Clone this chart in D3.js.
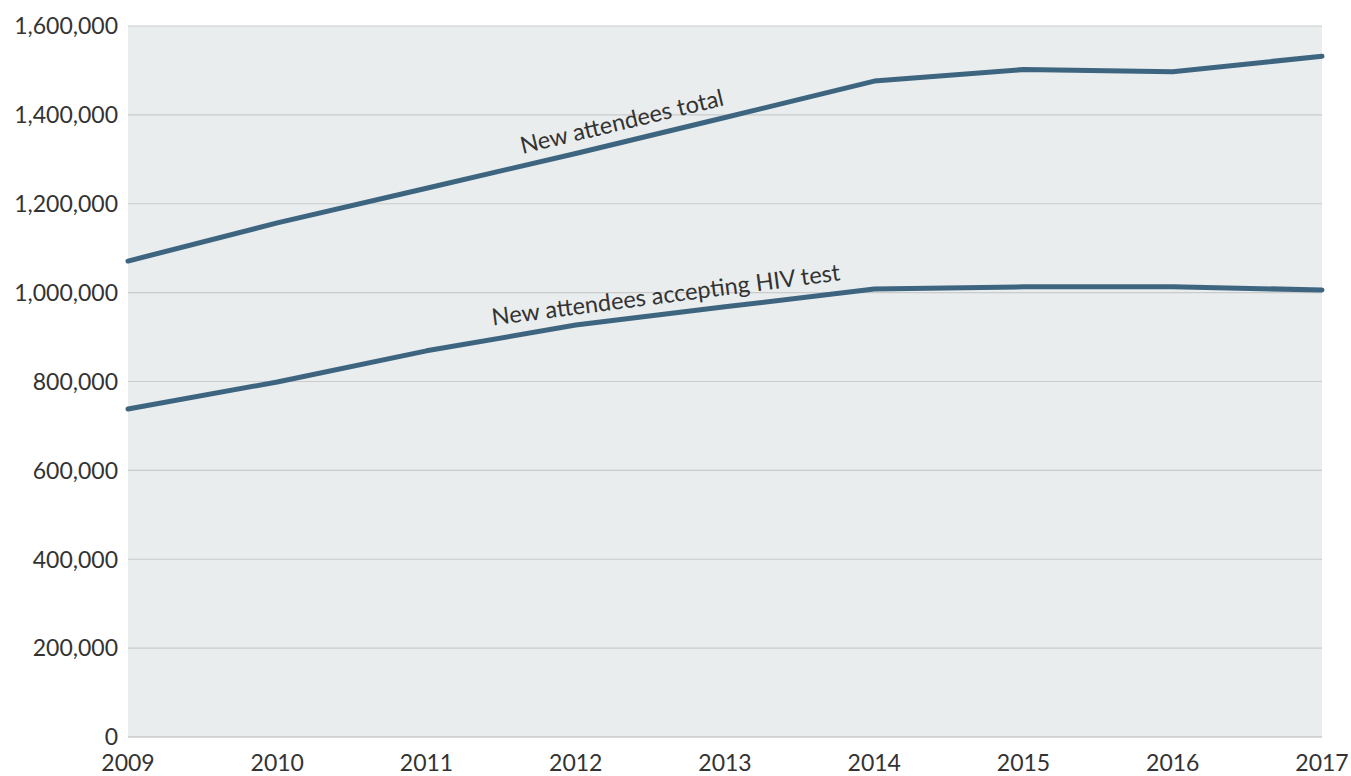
<!DOCTYPE html>
<html>
<head>
<meta charset="utf-8">
<script src="https://cdn.jsdelivr.net/npm/d3@7/dist/d3.min.js"></script>
<style>
  html, body { margin: 0; padding: 0; background: #ffffff; }
  svg { display: block; }
  text { font-family: Lato, "Open Sans", sans-serif; fill: #333333; }
</style>
</head>
<body>
<svg id="chart" width="1351" height="776"></svg>
<script>
// Annual new attendees, 2009–2017
const years = [2009, 2010, 2011, 2012, 2013, 2014, 2015, 2016, 2017];
const attendeesTotal = [1071000, 1157000, 1235000, 1313000, 1394000, 1476000, 1502000, 1497000, 1532000];
const attendeesTested = [738000, 799000, 869000, 927000, 968000, 1008000, 1013000, 1013000, 1006000];
const yTicks = [0, 200000, 400000, 600000, 800000, 1000000, 1200000, 1400000, 1600000];

const seriesList = [
  { name: "New attendees total", values: attendeesTotal, labelAt: 2012.34, offset: 12 },
  { name: "New attendees accepting HIV test", values: attendeesTested, labelAt: 2012.62, offset: 11 }
];

const svg = d3.select("#chart");
const margin = { left: 128, right: 29, top: 26, bottom: 39 };
const W = 1351, H = 776;

const x = d3.scaleLinear().domain([2009, 2017]).range([margin.left, W - margin.right]);
const y = d3.scaleLinear().domain([0, 1600000]).range([H - margin.bottom, margin.top]);

// plot background
svg.append("rect")
  .attr("x", x(2009)).attr("y", y(1600000))
  .attr("width", x(2017) - x(2009)).attr("height", y(0) - y(1600000))
  .attr("fill", "#e9edee");

// horizontal gridlines
svg.append("g").selectAll("line").data(yTicks).join("line")
  .attr("x1", x(2009)).attr("x2", x(2017))
  .attr("y1", d => y(d)).attr("y2", d => y(d))
  .attr("stroke", d => d === 0 ? "#b4b4b4" : "#c9cbcc")
  .attr("stroke-width", 1.2);

// y axis labels
const fmt = d3.format(",");
svg.append("g").selectAll("text").data(yTicks).join("text")
  .attr("x", x(2009) - 10).attr("y", d => y(d))
  .attr("dy", "0.36em")
  .attr("text-anchor", "end")
  .attr("font-size", 23)
  .text(d => fmt(d));

// x axis labels
svg.append("g").selectAll("text").data(years).join("text")
  .attr("x", d => x(d)).attr("y", H - margin.bottom + 34)
  .attr("text-anchor", "middle")
  .attr("font-size", 23)
  .text(d => d);

const line = d3.line().x((d, i) => x(years[i])).y(d => y(d));

seriesList.forEach(s => {
  svg.append("path")
    .attr("d", line(s.values))
    .attr("fill", "none")
    .attr("stroke", "#3e6580")
    .attr("stroke-width", 5)
    .attr("stroke-linejoin", "round")
    .attr("stroke-linecap", "round");

  // inline label following the local slope of the line
  const i0 = Math.floor(s.labelAt - 2009);
  const t = s.labelAt - 2009 - i0;
  const v = s.values[i0] + (s.values[i0 + 1] - s.values[i0]) * t;
  const px = x(s.labelAt), py = y(v);
  const slopeA = Math.atan2(y(s.values[i0 + 1]) - y(s.values[i0]), x(years[i0 + 1]) - x(years[i0]));
  const iPrev = Math.max(i0 - 1, 0), iNext = Math.min(i0 + 2, years.length - 1);
  const slopeB = Math.atan2(y(s.values[iNext]) - y(s.values[iPrev]), x(years[iNext]) - x(years[iPrev]));
  const ang = (slopeA + slopeB) / 2;
  const deg = ang * 180 / Math.PI;
  svg.append("text")
    .attr("transform", `translate(${px},${py}) rotate(${deg}) translate(0,${-s.offset})`)
    .attr("text-anchor", "middle")
    .attr("font-size", 23.5)
    .text(s.name);
});
</script>
</body>
</html>
